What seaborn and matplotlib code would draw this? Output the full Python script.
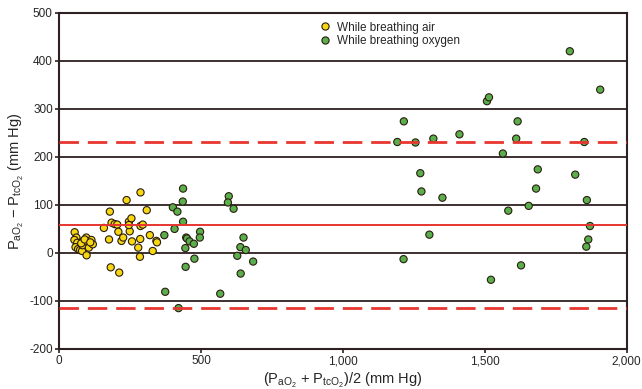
import matplotlib
matplotlib.use("Agg")
import matplotlib.pyplot as plt
import seaborn as sns
import pandas as pd
from matplotlib.ticker import FuncFormatter

# ---- data ----
air_x = [55, 61, 54, 64, 58, 67, 74, 81, 83, 85, 96, 96, 105, 97, 114, 119, 78, 90, 110,
         158, 179, 176, 182, 212, 185, 196, 205, 209, 220, 226, 238, 246, 249, 255, 246,
         257, 279, 287, 286, 285, 287, 295, 309, 320, 330, 343, 345]
air_y = [43, 32, 27, 21, 12, 8, 6, 4, 16, 25, 32, 24, 11, -5, 27, 18, 20, 28, 22,
         52, 86, 28, -30, -41, 63, 60, 59, 44, 25, 32, 110, 65, 45, 72, 58,
         24, 11, 126, 29, -8, 56, 59, 89, 37, 4, 25, 22]

oxy_x = [1800, 1907, 1508, 1515, 1215, 1616, 1192, 1256, 1319, 1411, 1611, 1851, 1564, 1273,
         1687, 1819, 1277, 1681, 1351, 1860, 1655, 1583, 1871, 1865, 1858, 1305, 1214, 1628, 1522,
         437, 436, 401, 417, 437, 407, 371, 448, 451, 460, 475, 445, 497, 496, 477, 446, 374,
         421, 598, 595, 615, 650, 639, 658, 628, 684, 640, 568]
oxy_y = [420, 340, 316, 324, 274, 274, 231, 230, 238, 247, 238, 231, 207, 166,
         174, 163, 128, 134, 115, 110, 98, 88, 56, 28, 13, 38, -13, -26, -56,
         134, 107, 95, 86, 65, 50, 37, 32, 30, 24, 19, 10, 44, 32, -12, -29, -81,
         -115, 118, 105, 92, 32, 12, 6, -6, -18, -43, -85]

group_labels = ["While breathing air", "While breathing oxygen"]
mean_diff = 58
upper_loa = 231
lower_loa = -114
x_ticks = [0, 500, 1000, 1500, 2000]
y_ticks = [-200, -100, 0, 100, 200, 300, 400, 500]
grid_levels = [-100, 0, 100, 200, 300, 400]

df = pd.DataFrame({
    "x": air_x + oxy_x,
    "y": air_y + oxy_y,
    "group": [group_labels[0]] * len(air_x) + [group_labels[1]] * len(oxy_x),
})

sns.set_theme(style="white")
plt.rcParams["font.family"] = ["Liberation Sans", "DejaVu Sans"]
plt.rcParams["mathtext.fontset"] = "custom"
plt.rcParams["mathtext.rm"] = "Liberation Sans"
plt.rcParams["mathtext.it"] = "Liberation Sans"

frame_col = "#2e2020"
fig = plt.figure(figsize=(6.42, 3.89), dpi=100)
ax = fig.add_axes([0.092, 0.103, 0.884, 0.864])

for g in grid_levels:
    ax.axhline(g, color=frame_col, lw=1.3, zorder=1)

sns.scatterplot(data=df, x="x", y="y", hue="group",
                palette={group_labels[0]: "#f7d612", group_labels[1]: "#5aae4c"},
                s=27, edgecolor="#2a1d10", linewidth=0.8, ax=ax, zorder=3)

ax.axhline(mean_diff, color="#e8352f", lw=1.4, zorder=4)
ax.axhline(upper_loa, color="#e8352f", lw=2.0, dashes=(7, 3.2), zorder=4)
ax.axhline(lower_loa, color="#e8352f", lw=2.0, dashes=(7, 3.2), zorder=4)

ax.set_xlim(0, 2000)
ax.set_ylim(-200, 500)
ax.set_xticks(x_ticks)
ax.set_yticks(y_ticks)
ax.xaxis.set_major_formatter(FuncFormatter(lambda v, p: f"{int(v):,}"))
ax.yaxis.set_major_formatter(FuncFormatter(lambda v, p: f"{int(v)}"))
ax.tick_params(axis="both", direction="out", length=3, width=1.2, color=frame_col,
               labelsize=8.5, pad=1.5, left=True, bottom=True)
for sp in ax.spines.values():
    sp.set_color(frame_col)
    sp.set_linewidth(1.5)

ax.set_xlabel(r"(P$_{\mathrm{aO}_2}$ + P$_{\mathrm{tcO}_2}$)/2 (mm Hg)", fontsize=10.5, labelpad=3)
ax.set_ylabel(r"P$_{\mathrm{aO}_2}$ $-$ P$_{\mathrm{tcO}_2}$ (mm Hg)", fontsize=10.5, labelpad=2)

leg = ax.legend(loc="upper left", bbox_to_anchor=(0.436, 0.995), frameon=False,
                fontsize=8.5, handletextpad=0.0, borderaxespad=0.2, labelspacing=0.15,
                markerscale=1.0, title=None)

fig.savefig("out.png", dpi=100)
